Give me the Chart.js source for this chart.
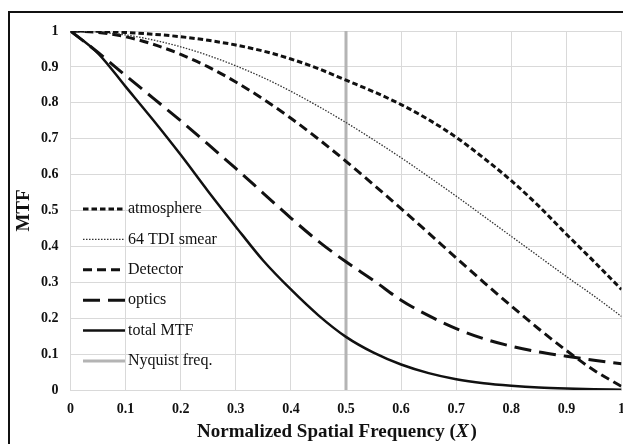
<!DOCTYPE html>
<html>
<head>
<meta charset="utf-8">
<script src="https://cdn.jsdelivr.net/npm/chart.js@4.4.1/dist/chart.umd.min.js"></script>
<style>
	html, body { margin: 0; padding: 0; background: #fff; overflow: hidden; }
	#frame { position: absolute; left: 8px; top: 11px; width: 800px; height: 600px; border: 2px solid #111; }
	#mtf { position: absolute; left: 0; top: 0; }
</style>
</head>
<body>
<div id="frame"></div>
<canvas id="mtf" width="623" height="444"></canvas>
<script>
//Normalisert frekvens (x-akse)
var freq = [0, 0.05, 0.1, 0.15, 0.2, 0.25, 0.3, 0.35, 0.4, 0.45, 0.5, 0.55, 0.6, 0.65, 0.7, 0.75, 0.8, 0.85, 0.9, 0.95, 1];

//MTF verdier lest fra figuren
var atmosphere = [1, 0.999, 0.996, 0.991, 0.984, 0.974, 0.961, 0.944, 0.922, 0.895, 0.863, 0.831, 0.795, 0.753, 0.704, 0.646, 0.583, 0.512, 0.434, 0.358, 0.28];
var smear = [1, 0.997, 0.989, 0.975, 0.956, 0.932, 0.903, 0.87, 0.832, 0.79, 0.745, 0.697, 0.647, 0.594, 0.54, 0.484, 0.428, 0.372, 0.316, 0.262, 0.205];
var detector = [1, 0.996, 0.984, 0.963, 0.935, 0.9, 0.858, 0.81, 0.757, 0.699, 0.637, 0.572, 0.505, 0.437, 0.368, 0.3, 0.234, 0.17, 0.11, 0.055, 0.01];
var optics = [1, 0.94, 0.876, 0.813, 0.75, 0.684, 0.617, 0.548, 0.479, 0.414, 0.357, 0.305, 0.25, 0.207, 0.171, 0.143, 0.122, 0.106, 0.094, 0.083, 0.073];
var total = [1, 0.938, 0.845, 0.752, 0.655, 0.553, 0.455, 0.36, 0.28, 0.208, 0.148, 0.104, 0.071, 0.047, 0.03, 0.019, 0.012, 0.007, 0.004, 0.002, 0.001];

//Nyquist linje
var nyquistX = [0.5, 0.5];
var nyquistY = [0, 1];

var labels = ["atmosphere", "64 TDI smear", "Detector", "optics", "total MTF", "Nyquist freq."];

function pts(xs, ys) {
	return xs.map(function (x, i) { return { x: x, y: ys[i] }; });
}

//Fjerner ekstra nuller: 1.0 -> 1
function tickText(v) {
	return String(+v.toFixed(1));
}

Chart.defaults.font.family = "'Liberation Serif', 'Times New Roman', serif";
Chart.defaults.color = "#111";

//Legende inne i plottet
var legendPlugin = {
	id: "innerLegend",
	afterDatasetsDraw: function (chart) {
		var c = chart.ctx;
		var y0 = 209, step = 30.4;
		c.save();
		chart.data.datasets.forEach(function (ds, i) {
			var y = y0 + i * step;
			c.beginPath();
			c.setLineDash(ds.borderDash || []);
			c.lineWidth = ds.borderWidth;
			c.strokeStyle = ds.borderColor;
			c.moveTo(83, y);
			c.lineTo(125, y);
			c.stroke();
			c.setLineDash([]);
			c.fillStyle = "#111";
			c.font = "16px 'Liberation Serif', serif";
			c.textBaseline = "middle";
			c.textAlign = "left";
			c.fillText(ds.label, 128, y);
		});
		c.restore();
	}
};

//X-akse tittel med kursiv X
var xTitlePlugin = {
	id: "xTitle",
	afterDraw: function (chart) {
		var c = chart.ctx;
		var parts = [
			["Normalized Spatial Frequency (", "bold 19px 'Liberation Serif', serif"],
			["X", "italic bold 19px 'Liberation Serif', serif"],
			[")", "bold 19px 'Liberation Serif', serif"]
		];
		c.save();
		var w = 0;
		parts.forEach(function (p) { c.font = p[1]; w += c.measureText(p[0]).width + (p[0] === "X" ? 2 : 0); });
		var x = 337 - w / 2;
		c.fillStyle = "#111";
		c.textBaseline = "middle";
		c.textAlign = "left";
		parts.forEach(function (p) {
			c.font = p[1];
			c.fillText(p[0], x, 432);
			x += c.measureText(p[0]).width + (p[0] === "X" ? 2 : 0);
		});
		c.restore();
	}
};

var ctx = document.getElementById("mtf");

var chart = new Chart(ctx, {
	type: "scatter",
	data: {
		datasets: [
			{ label: labels[0], data: pts(freq, atmosphere), borderColor: "#111", borderWidth: 3, borderDash: [5.5, 3] },
			{ label: labels[1], data: pts(freq, smear), borderColor: "#333", borderWidth: 1.3, borderDash: [1.5, 1.5] },
			{ label: labels[2], data: pts(freq, detector), borderColor: "#111", borderWidth: 3, borderDash: [9, 5] },
			{ label: labels[3], data: pts(freq, optics), borderColor: "#111", borderWidth: 3, borderDash: [17, 8] },
			{ label: labels[4], data: pts(freq, total), borderColor: "#111", borderWidth: 2.5 },
			{ label: labels[5], data: pts(nyquistX, nyquistY), borderColor: "#b4b4b4", borderWidth: 3, order: 10 }
		]
	},
	options: {
		responsive: false,
		animation: false,
		devicePixelRatio: 1,
		showLine: true,
		elements: {
			point: { radius: 0, hoverRadius: 0 },
			line: { cubicInterpolationMode: "monotone", fill: false }
		},
		layout: { padding: { left: 10.5, right: 1.5, top: 31, bottom: 0 } },
		plugins: {
			legend: { display: false },
			tooltip: { enabled: false }
		},
		scales: {
			x: {
				type: "linear",
				min: 0,
				max: 1,
				ticks: { stepSize: 0.1, padding: 11, font: { size: 14, weight: "bold" }, color: "#111", callback: tickText },
				grid: { color: "#d9d9d9", drawTicks: false },
				border: { color: "#d9d9d9" },
				afterFit: function (s) { s.height = 54; s.paddingLeft = 0; s.paddingRight = 0; }
			},
			y: {
				min: 0,
				max: 1,
				ticks: { stepSize: 0.1, padding: 12, font: { size: 14, weight: "bold" }, color: "#111", callback: tickText },
				grid: { color: "#d9d9d9", drawTicks: false },
				border: { color: "#d9d9d9" },
				title: { display: true, text: "MTF", font: { size: 19, weight: "bold" }, color: "#111", padding: { top: 2, bottom: 0 } },
				afterFit: function (s) { s.width = 60; }
			}
		}
	},
	plugins: [legendPlugin, xTitlePlugin]
});
</script>
</body>
</html>
